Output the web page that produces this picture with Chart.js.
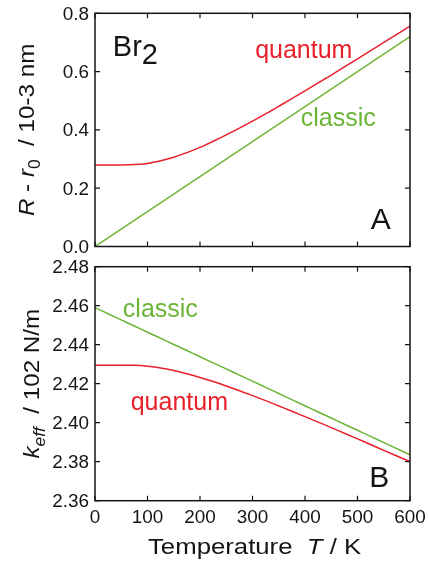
<!DOCTYPE html>
<html>
<head>
<meta charset="utf-8">
<script src="https://cdn.jsdelivr.net/npm/chart.js@4.4.1/dist/chart.umd.min.js"></script>
<style>
  html, body { margin: 0; padding: 0; background: #fff; }
  #wrap { position: relative; width: 428px; height: 564px; }
  canvas { position: absolute; left: 0; }
</style>
</head>
<body>
<div id="wrap">
  <canvas id="panelA" width="428" height="256" style="top:0;width:428px;height:256px"></canvas>
  <canvas id="panelB" width="428" height="308" style="top:256px;width:428px;height:308px"></canvas>
</div>
<script>
// temperature grid, K
const temperatures = [0, 25, 50, 75, 100, 125, 150, 175, 200, 225, 250, 275, 300,
                      325, 350, 375, 400, 425, 450, 475, 500, 525, 550, 575, 600];

// panel A: R - r0 / 10-3 nm
const quantumR = [0.280, 0.280, 0.280, 0.281, 0.285, 0.294, 0.306, 0.322, 0.340, 0.361, 0.383, 0.406, 0.430,
                  0.455, 0.481, 0.507, 0.534, 0.561, 0.588, 0.616, 0.644, 0.672, 0.700, 0.728, 0.756];
const classicR = [0.000, 0.030, 0.060, 0.090, 0.120, 0.150, 0.180, 0.210, 0.240, 0.270, 0.300, 0.330, 0.360,
                  0.390, 0.420, 0.450, 0.480, 0.510, 0.540, 0.570, 0.600, 0.630, 0.660, 0.690, 0.720];

// panel B: k_eff / 102 N/m
const quantumK = [2.4295, 2.4295, 2.4295, 2.4294, 2.4289, 2.4281, 2.4268, 2.4251, 2.4232, 2.4211, 2.4188, 2.4164, 2.4139,
                  2.4113, 2.4086, 2.4059, 2.4031, 2.4003, 2.3975, 2.3946, 2.3917, 2.3888, 2.3858, 2.3829, 2.3801];
const classicK = [2.4590, 2.4559, 2.4527, 2.4496, 2.4464, 2.4433, 2.4401, 2.4370, 2.4338, 2.4307, 2.4276, 2.4244, 2.4213,
                  2.4181, 2.4150, 2.4118, 2.4087, 2.4055, 2.4024, 2.3992, 2.3961, 2.3930, 2.3898, 2.3867, 2.3835];

const RED = '#e8202a';
const GREEN = '#6bb536';
const INK = '#141414';
const FONT = '"Liberation Sans", Arial, Helvetica, sans-serif';

function partFont(p, size) {
  const s = p.sub ? size * 0.72 : size;
  return (p.italic ? 'italic ' : '') + s + 'px ' + FONT;
}

function richWidth(ctx, parts, size) {
  let w = 0;
  parts.forEach(p => { ctx.font = partFont(p, size); w += ctx.measureText(p.text).width; });
  return w;
}

// draws mixed italic / subscript text, optionally rotated and stretched along the text direction
function drawRich(ctx, parts, x, y, size, opt) {
  const o = Object.assign({angle: 0, stretch: 1, align: 'left', color: INK}, opt);
  ctx.save();
  ctx.translate(x, y);
  ctx.rotate(o.angle);
  ctx.scale(o.stretch, 1);
  ctx.textAlign = 'left';
  ctx.textBaseline = 'alphabetic';
  let cx = o.align === 'center' ? -richWidth(ctx, parts, size) / 2 : 0;
  parts.forEach(p => {
    ctx.font = partFont(p, size);
    ctx.fillStyle = p.color || o.color;
    const drop = p.drop !== undefined ? p.drop : (p.sub ? 0.28 : 0);
    ctx.fillText(p.text, cx, size * drop);
    cx += ctx.measureText(p.text).width;
  });
  ctx.restore();
}

function drawPlain(ctx, text, x, y, size, align, stretch) {
  ctx.save();
  ctx.translate(x, y);
  ctx.scale(stretch, 1);
  ctx.font = size + 'px ' + FONT;
  ctx.fillStyle = INK;
  ctx.textAlign = align;
  ctx.textBaseline = 'alphabetic';
  ctx.fillText(text, 0, 0);
  ctx.restore();
}

// frame, inward ticks on all four sides, tick labels, titles and in-plot labels
const panelPlugin = {
  id: 'panel',
  afterDraw(chart, args, o) {
    const {ctx, chartArea: a, scales: {x, y}} = chart;
    ctx.save();
    ctx.strokeStyle = INK;
    ctx.lineWidth = 1.2;
    ctx.beginPath();
    x.ticks.forEach(t => {
      const px = x.getPixelForValue(t.value);
      ctx.moveTo(px, a.bottom); ctx.lineTo(px, a.bottom - 5);
      ctx.moveTo(px, a.top); ctx.lineTo(px, a.top + 5);
    });
    y.ticks.forEach(t => {
      const py = y.getPixelForValue(t.value);
      ctx.moveTo(a.left, py); ctx.lineTo(a.left + 5, py);
      ctx.moveTo(a.right, py); ctx.lineTo(a.right - 5, py);
    });
    ctx.stroke();
    ctx.lineWidth = 1.5;
    ctx.strokeRect(a.left, a.top, a.right - a.left, a.bottom - a.top);
    ctx.restore();

    y.ticks.forEach(t => {
      drawPlain(ctx, t.value.toFixed(o.decimals), a.left - 6, y.getPixelForValue(t.value) + 6.5, 18, 'right', 1.05);
    });
    if (o.xLabels) {
      x.ticks.forEach(t => {
        drawPlain(ctx, String(t.value), x.getPixelForValue(t.value), a.bottom + 22.5, 18, 'center', 1.05);
      });
      drawRich(ctx, o.xTitle, 148, a.bottom + 53.5, 22, {stretch: 1.17});
    }
    drawRich(ctx, o.yTitle, o.yTitleX, (a.top + a.bottom) / 2, 22,
             {angle: -Math.PI / 2, stretch: 1.1, align: 'center'});
    o.labels.forEach(l => {
      drawRich(ctx, l.parts, x.getPixelForValue(l.at[0]), y.getPixelForValue(l.at[1]), l.size, {color: l.color});
    });
  }
};

const xTitle = [{text: 'Temperature  '}, {text: 'T', italic: true}, {text: ' / K'}];
const yTitleA = [{text: 'R', italic: true}, {text: ' - '}, {text: 'r', italic: true},
                 {text: '0', sub: true}, {text: '  / 10-3 nm'}];
const yTitleB = [{text: 'k', italic: true}, {text: 'eff', italic: true, sub: true}, {text: '  / 102 N/m'}];

function series(values) {
  return values.map((v, i) => ({x: temperatures[i], y: v}));
}

function makePanel(canvas, cfg) {
  return new Chart(canvas, {
    type: 'line',
    data: {
      datasets: [
        {label: 'classic', data: series(cfg.classic), borderColor: GREEN, borderWidth: 1.5,
         pointRadius: 0, cubicInterpolationMode: 'monotone'},
        {label: 'quantum', data: series(cfg.quantum), borderColor: RED, borderWidth: 1.5,
         pointRadius: 0, cubicInterpolationMode: 'monotone'}
      ]
    },
    options: {
      responsive: false,
      animation: false,
      events: [],
      layout: {padding: cfg.padding},
      scales: {
        x: {type: 'linear', display: false, min: 0, max: 600, ticks: {stepSize: 100}},
        y: {type: 'linear', display: false, min: cfg.yMin, max: cfg.yMax, ticks: {stepSize: cfg.yStep}}
      },
      plugins: {
        legend: {display: false},
        tooltip: {enabled: false},
        panel: {
          decimals: cfg.decimals,
          xLabels: cfg.xLabels,
          xTitle: xTitle,
          yTitle: cfg.yTitle,
          yTitleX: cfg.yTitleX,
          labels: cfg.labels
        }
      }
    },
    plugins: [panelPlugin]
  });
}

makePanel(document.getElementById('panelA'), {
  quantum: quantumR, classic: classicR,
  yMin: 0, yMax: 0.8, yStep: 0.2, decimals: 1,
  padding: {left: 95, right: 18, top: 13.3, bottom: 9.5},
  xLabels: false, yTitle: yTitleA, yTitleX: 34,
  labels: [
    {parts: [{text: 'Br'}, {text: '2', drop: 0.27}], at: [34, 0.6535], size: 29, color: INK},
    {parts: [{text: 'quantum'}], at: [305, 0.6456], size: 25, color: RED},
    {parts: [{text: 'classic'}], at: [392, 0.413], size: 25, color: GREEN},
    {parts: [{text: 'A'}], at: [525, 0.059], size: 30, color: INK}
  ]
});

makePanel(document.getElementById('panelB'), {
  quantum: quantumK, classic: classicK,
  yMin: 2.36, yMax: 2.48, yStep: 0.02, decimals: 2,
  padding: {left: 95, right: 18, top: 10.7, bottom: 63.3},
  xLabels: true, yTitle: yTitleB, yTitleX: 38.5,
  labels: [
    {parts: [{text: 'classic'}], at: [53, 2.4544], size: 25, color: GREEN},
    {parts: [{text: 'quantum'}], at: [68, 2.4065], size: 25, color: RED},
    {parts: [{text: 'B'}], at: [522.5, 2.3672], size: 30, color: INK}
  ]
});
</script>
</body>
</html>
